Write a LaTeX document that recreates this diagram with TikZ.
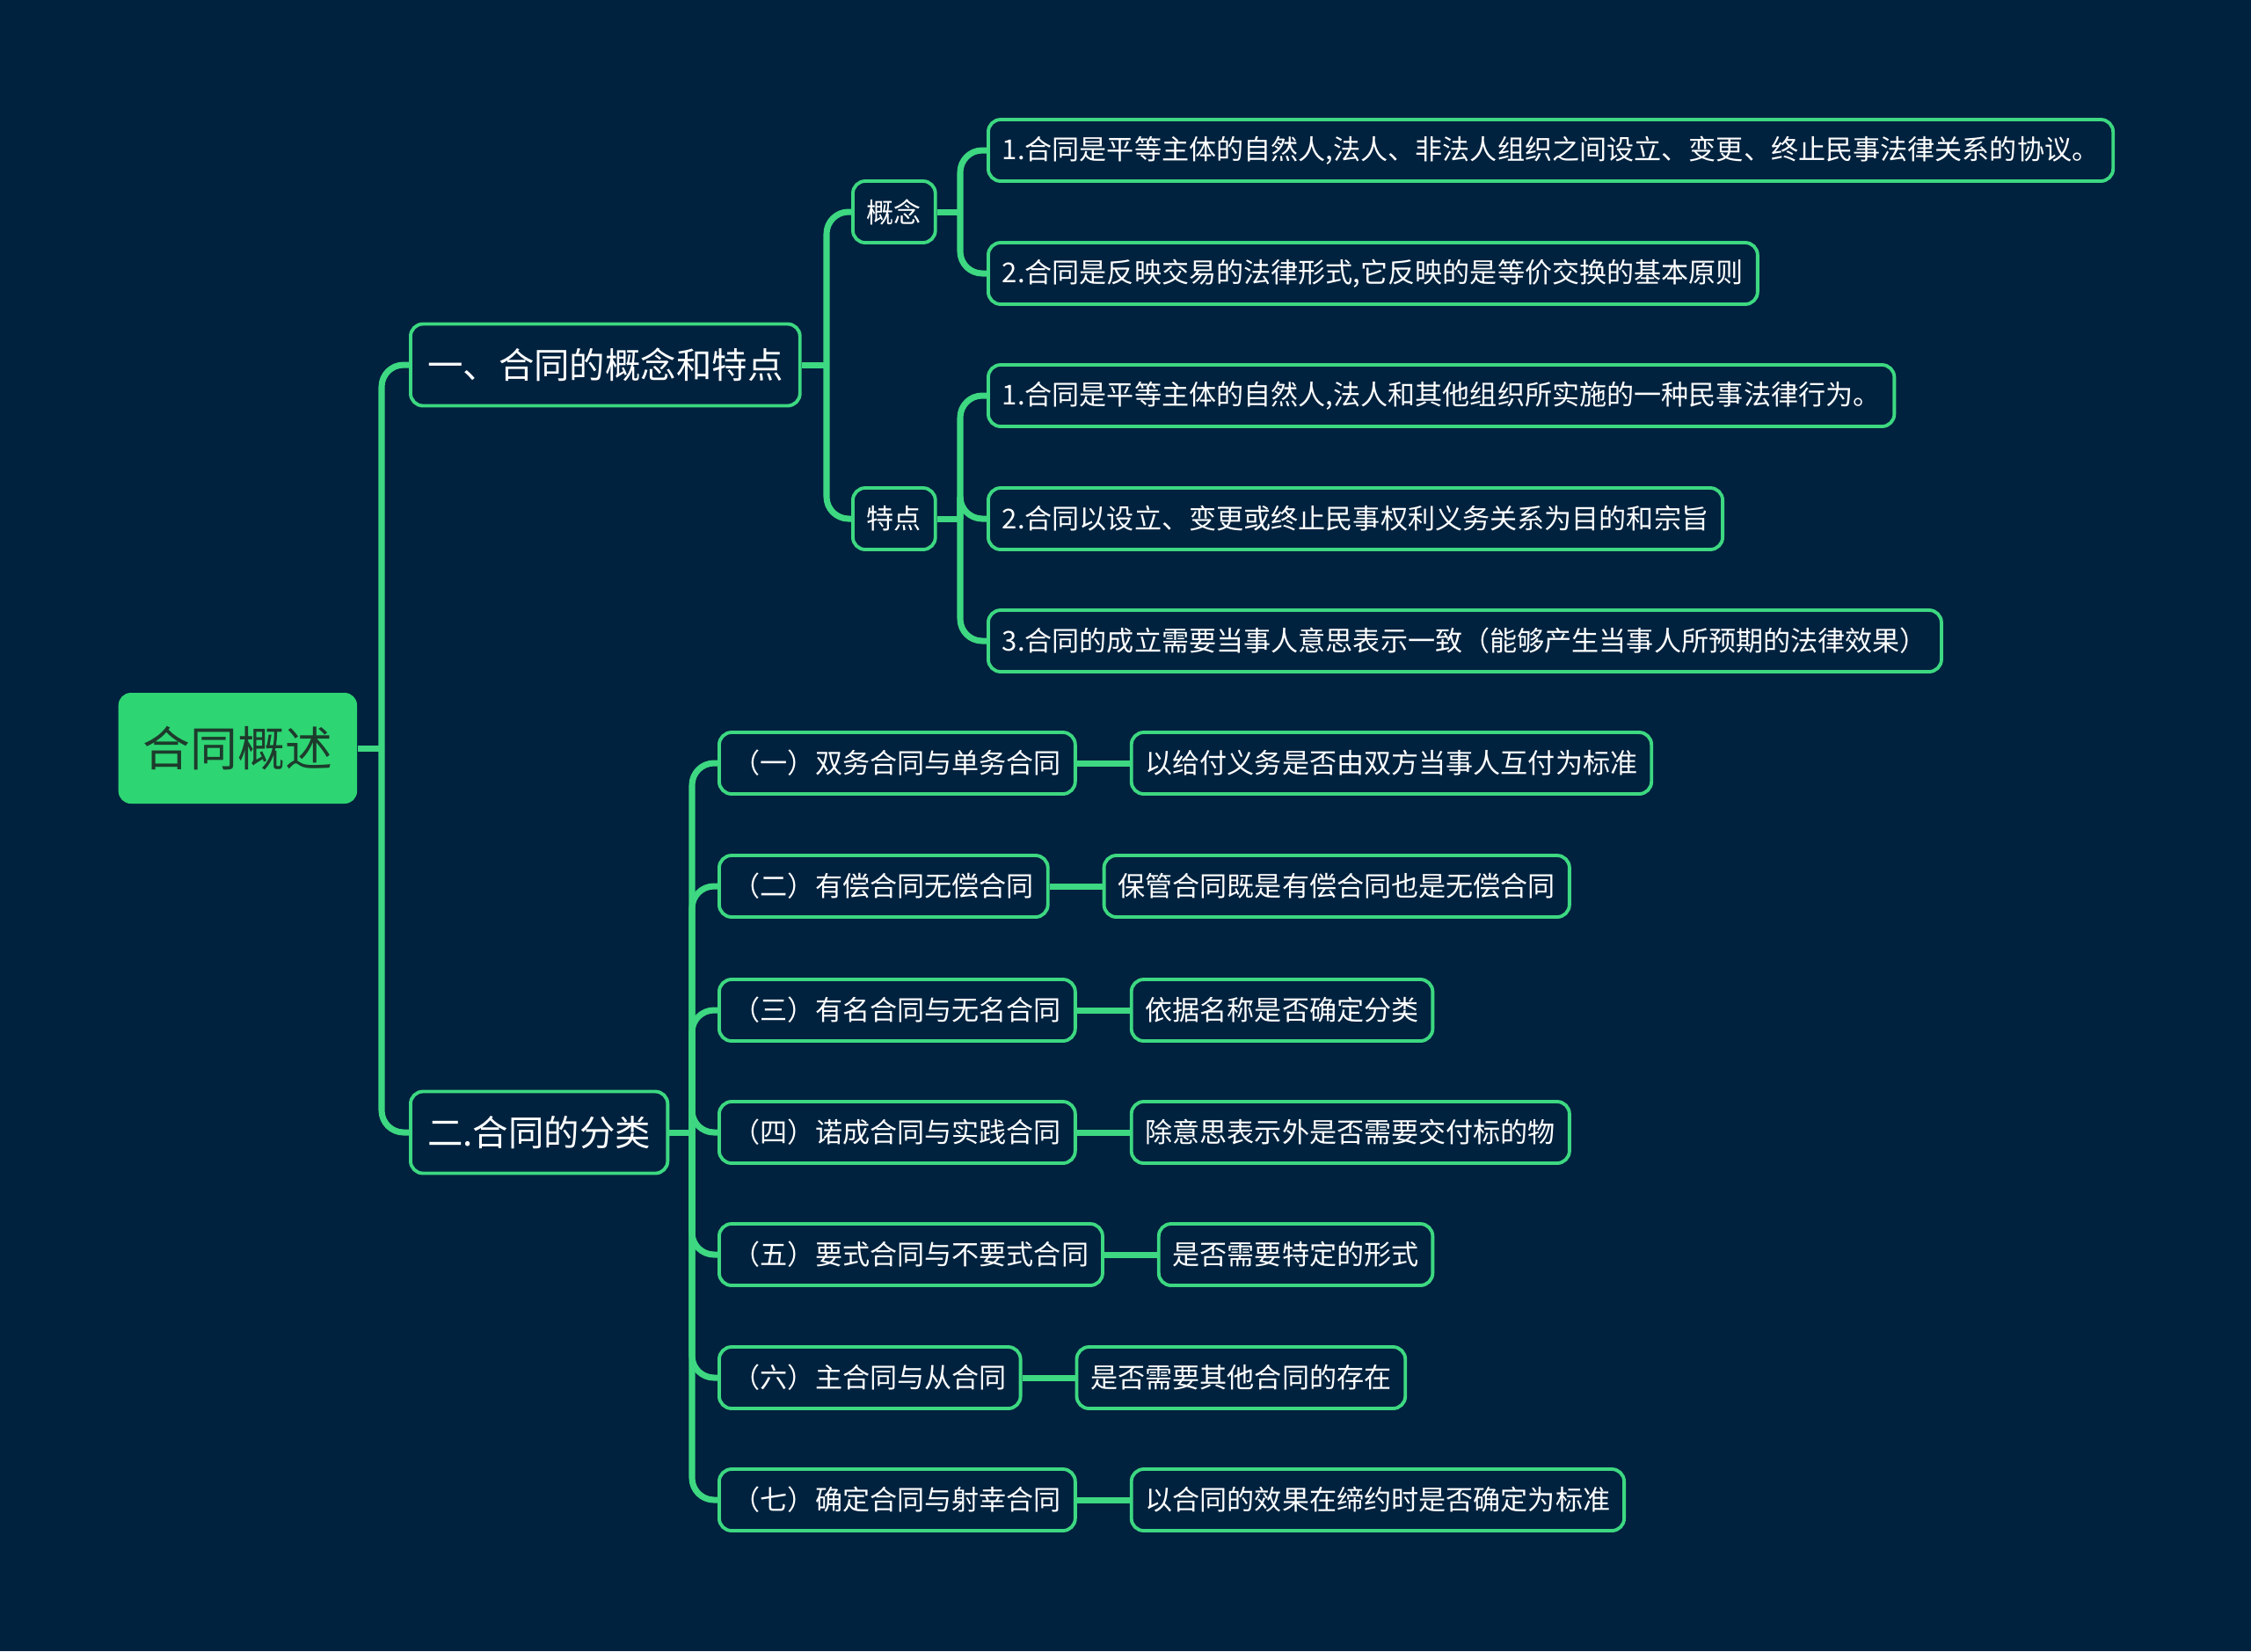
\documentclass[tikz,border=0pt]{standalone}
\usepackage{fontspec}
\usepackage{tikz}
\usetikzlibrary{positioning, calc}
\newfontfamily\cjk{Noto Sans CJK SC}
\definecolor{navybg}{HTML}{01223E}
\definecolor{leafgreen}{HTML}{2ED573}
\definecolor{linegreen}{HTML}{3DD881}
\definecolor{roottext}{HTML}{1D3B2C}

\begin{document}
\begin{tikzpicture}[
    node distance=0.6cm,
    root/.style={rectangle, fill=leafgreen, rounded corners=4pt, minimum height=12.6mm, inner xsep=8pt, anchor=west, text=roottext, font=\cjk\fontsize{15.3}{18}\selectfont},
    topic/.style={rectangle, draw=linegreen, line width=1.1pt, rounded corners=4pt, minimum height=9.3mm, inner xsep=5.5pt, anchor=west, text=white, font=\cjk\fontsize{11.5}{14}\selectfont},
    leaf/.style={rectangle, draw=linegreen, line width=1.1pt, rounded corners=4pt, minimum height=7mm, inner xsep=4.5pt, anchor=west, text=white, font=\cjk\fontsize{8.85}{11}\selectfont},
    link/.style={draw=linegreen, line width=2pt, rounded corners=2.5mm}
]
    \fill[navybg] (0,0) rectangle (25.6,-18.78);

    \node (root) [root] at (1.34,-8.51) {合同概述};
    \node (sec1) [topic] at (4.65,-4.15) {一、合同的概念和特点};
    \node (sec2) [topic] at (4.65,-12.88) {二.合同的分类};

    % part one
    \node (concept) [leaf] at (9.68,-2.41) {概念};
    \node (feature) [leaf] at (9.68,-5.90) {特点};
    \node (c1) [leaf] at (11.22,-1.71) {1.合同是平等主体的自然人,法人、非法人组织之间设立、变更、终止民事法律关系的协议。};
    \node (c2) [leaf] at (11.22,-3.11) {2.合同是反映交易的法律形式,它反映的是等价交换的基本原则};
    \node (f1) [leaf] at (11.22,-4.50) {1.合同是平等主体的自然人,法人和其他组织所实施的一种民事法律行为。};
    \node (f2) [leaf] at (11.22,-5.90) {2.合同以设立、变更或终止民事权利义务关系为目的和宗旨};
    \node (f3) [leaf] at (11.22,-7.29) {3.合同的成立需要当事人意思表示一致（能够产生当事人所预期的法律效果）};

    % part two
    \node (k1) [leaf] at (8.16,-8.68) {（一）双务合同与单务合同};
    \node (k2) [leaf] at (8.16,-10.08) {（二）有偿合同无偿合同};
    \node (k3) [leaf] at (8.16,-11.49) {（三）有名合同与无名合同};
    \node (k4) [leaf] at (8.16,-12.88) {（四）诺成合同与实践合同};
    \node (k5) [leaf] at (8.16,-14.27) {（五）要式合同与不要式合同};
    \node (k6) [leaf] at (8.16,-15.67) {（六）主合同与从合同};
    \node (k7) [leaf] at (8.16,-17.06) {（七）确定合同与射幸合同};

    \node (n1) [leaf, right=of k1] {以给付义务是否由双方当事人互付为标准};
    \node (n2) [leaf, right=of k2] {保管合同既是有偿合同也是无偿合同};
    \node (n3) [leaf, right=of k3] {依据名称是否确定分类};
    \node (n4) [leaf, right=of k4] {除意思表示外是否需要交付标的物};
    \node (n5) [leaf, right=of k5] {是否需要特定的形式};
    \node (n6) [leaf, right=of k6] {是否需要其他合同的存在};
    \node (n7) [leaf, right=of k7] {以合同的效果在缔约时是否确定为标准};

    % branch points
    \coordinate (rootbus) at (4.34,-8.51);
    \coordinate (sec1bus) at (9.40,-4.15);
    \coordinate (conbus) at (10.92,-2.41);
    \coordinate (feabus) at (10.92,-5.90);
    \coordinate (sec2bus) at (7.87,-12.88);

    \draw[link] (root) -- (rootbus);
    \draw[link] (rootbus) |- (sec1.west);
    \draw[link] (rootbus) |- (sec2.west);

    \draw[link] (sec1) -- (sec1bus);
    \draw[link] (sec1bus) |- (concept.west);
    \draw[link] (sec1bus) |- (feature.west);

    \draw[link] (concept) -- (conbus);
    \draw[link] (conbus) |- (c1.west);
    \draw[link] (conbus) |- (c2.west);

    \draw[link] (feature) -- (feabus);
    \draw[link] (feabus) |- (f1.west);
    \draw[link] (feabus) |- (f2.west);
    \draw[link] (feabus) |- (f3.west);

    \draw[link] (sec2) -- (sec2bus);
    \foreach \i in {1,...,7} {
        \draw[link] (sec2bus) |- (k\i.west);
        \draw[link] (k\i) -- (n\i);
    }
\end{tikzpicture}
\end{document}
